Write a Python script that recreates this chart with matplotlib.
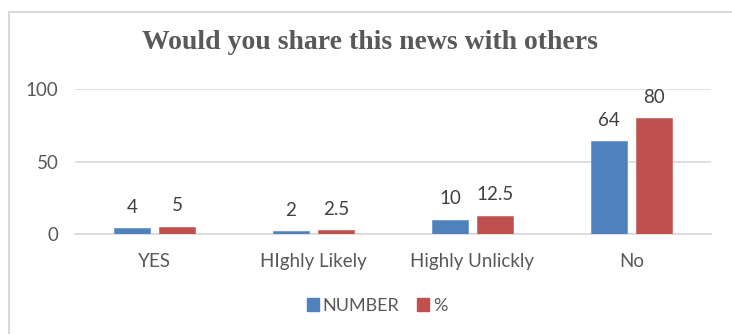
import numpy as np
import matplotlib.pyplot as plt
from matplotlib.lines import Line2D

categories = ['YES', 'HIghly Likely', 'Highly Unlickly', 'No']
number = [4, 2, 10, 64]
percent = [5, 2.5, 12.5, 80]
yticks = [0, 50, 100]

blue = '#4F81BD'
red = '#C0504D'
txt = '#595959'

plt.rcParams['font.family'] = ['Lato', 'DejaVu Sans']

fig = plt.figure(figsize=(7.32, 3.34), dpi=100)
ax = fig.add_axes([0.1025, 0.2994, 0.8685, 0.4341])

x = np.arange(len(categories))
w = 0.226
off = 0.1415
b1 = ax.bar(x - off, number, w, color=blue, edgecolor='#6F98CC', linewidth=0.6, label='NUMBER', zorder=3)
b2 = ax.bar(x + off, percent, w, color=red, edgecolor='#D06E6B', linewidth=0.6, label='%', zorder=3)

ax.bar_label(b1, labels=[f'{v:g}' for v in number], padding=9, fontsize=13.5, color='#404040')
ax.bar_label(b2, labels=[f'{v:g}' for v in percent], padding=9, fontsize=13.5, color='#404040')

ax.set_xlim(-0.5, 3.5)
ax.set_ylim(0, 100)
ax.set_yticks(yticks)
ax.set_xticks(x)
ax.set_xticklabels(categories)
ax.tick_params(axis='both', length=0, labelsize=13.5, colors=txt)
ax.tick_params(axis='x', pad=14)
ax.tick_params(axis='y', pad=12)
ax.grid(axis='y', color='#D9D9D9', linewidth=1.2, zorder=0)
for s in ['top', 'right', 'left']:
    ax.spines[s].set_visible(False)
ax.spines['bottom'].set_color('#D9D9D9')
ax.spines['bottom'].set_linewidth(1.2)

fig.text(0.506, 0.872, 'Would you share this news with others', ha='center', va='center',
         fontsize=20, fontweight='bold', color=txt, family='Liberation Serif')

handles = [plt.Rectangle((0, 0), 1, 1, color=blue), plt.Rectangle((0, 0), 1, 1, color=red)]
fig.legend(handles, ['NUMBER', '%'], loc='center', bbox_to_anchor=(0.515, 0.085), ncol=2,
           frameon=False, fontsize=13, labelcolor=txt, handlelength=0.7, handleheight=0.7,
           handletextpad=0.2, columnspacing=0.95)

# chart border
fig.add_artist(Line2D([0.0123, 0.0123], [0, 0.964], color='#D9D9D9', linewidth=1.5))
fig.add_artist(Line2D([0.0123, 1], [0.964, 0.964], color='#D9D9D9', linewidth=1.5))

fig.savefig('out.png', dpi=100)
